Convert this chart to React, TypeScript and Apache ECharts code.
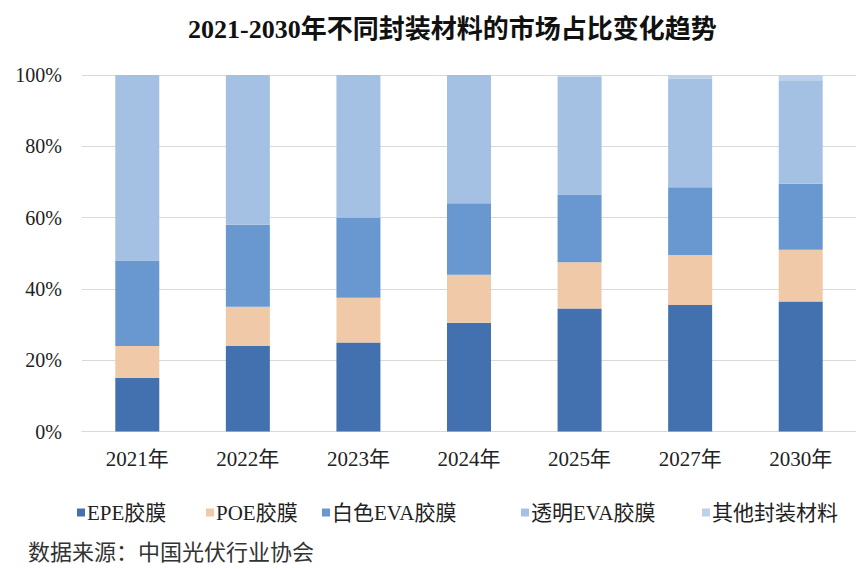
import React, { useEffect, useRef } from "react";
import * as echarts from "echarts";

const categories = ["2021年", "2022年", "2023年", "2024年", "2025年", "2027年", "2030年"];
const epe = [15, 24, 25, 30.5, 34.5, 35.5, 36.5];
const poe = [9, 11, 12.5, 13.5, 13, 14, 14.5];
const whiteEva = [24, 23, 22.5, 20, 19, 19, 18.5];
const clearEva = [52, 42, 40, 36, 33, 30.5, 29];
const other = [0, 0, 0, 0, 0.5, 1, 1.5];
const seriesNames = ["EPE胶膜", "POE胶膜", "白色EVA胶膜", "透明EVA胶膜", "其他封装材料"];
const seriesData = [epe, poe, whiteEva, clearEva, other];
const colors = ["#4371AF", "#F0C9A9", "#6898CF", "#A4C0E2", "#BDD1EA"];
const legendLefts = [72, 201, 317, 516, 697];

const serif = "'Liberation Serif', 'Noto Sans CJK SC', serif";

export default function App() {
  const ref = useRef<HTMLDivElement>(null);
  useEffect(() => {
    if (!ref.current) return;
    const chart = echarts.init(ref.current, null, { renderer: "svg" });
    chart.setOption({
      animation: false,
      backgroundColor: "#ffffff",
      title: {
        text: "2021-2030年不同封装材料的市场占比变化趋势",
        left: 183,
        top: 11,
        textStyle: { fontFamily: serif, fontSize: 26, fontWeight: "bold", color: "#111" },
      },
      legend: seriesNames.map((n, i) => ({
        data: [n],
        left: legendLefts[i],
        top: 497,
        itemWidth: 8,
        itemHeight: 8,
        itemGap: 4,
        icon: "rect",
        textStyle: { fontFamily: serif, fontSize: 21, color: "#222", padding: [0, 0, 0, -3] },
      })),
      grid: { left: 82, top: 75, width: 779, height: 356.5, containLabel: false },
      xAxis: {
        type: "category",
        data: categories,
        axisLine: { show: true, lineStyle: { color: "#d9d9d9", width: 1 } },
        axisTick: { show: false },
        axisLabel: { fontFamily: serif, fontSize: 21, color: "#222", margin: 17 },
      },
      yAxis: {
        type: "value",
        min: 0,
        max: 100,
        interval: 20,
        axisLine: { show: false },
        axisTick: { show: false },
        splitLine: { lineStyle: { color: "#d9d9d9", width: 1 } },
        axisLabel: { formatter: "{value}%", fontFamily: serif, fontSize: 20, color: "#222", margin: 20 },
      },
      graphic: [
        {
          type: "text",
          left: 28,
          top: 539,
          style: {
            text: "数据来源：中国光伏行业协会",
            fontFamily: "'Noto Sans CJK SC', sans-serif",
            fontSize: 22,
            fill: "#333",
          },
        },
      ],
      series: seriesNames.map((n, i) => ({
        name: n,
        type: "bar",
        stack: "total",
        barWidth: 44,
        data: seriesData[i],
        itemStyle: { color: colors[i] },
      })),
    });
    return () => chart.dispose();
  }, []);
  return <div ref={ref} style={{ width: 856, height: 569, position: "absolute", left: 0, top: 0 }} />;
}
